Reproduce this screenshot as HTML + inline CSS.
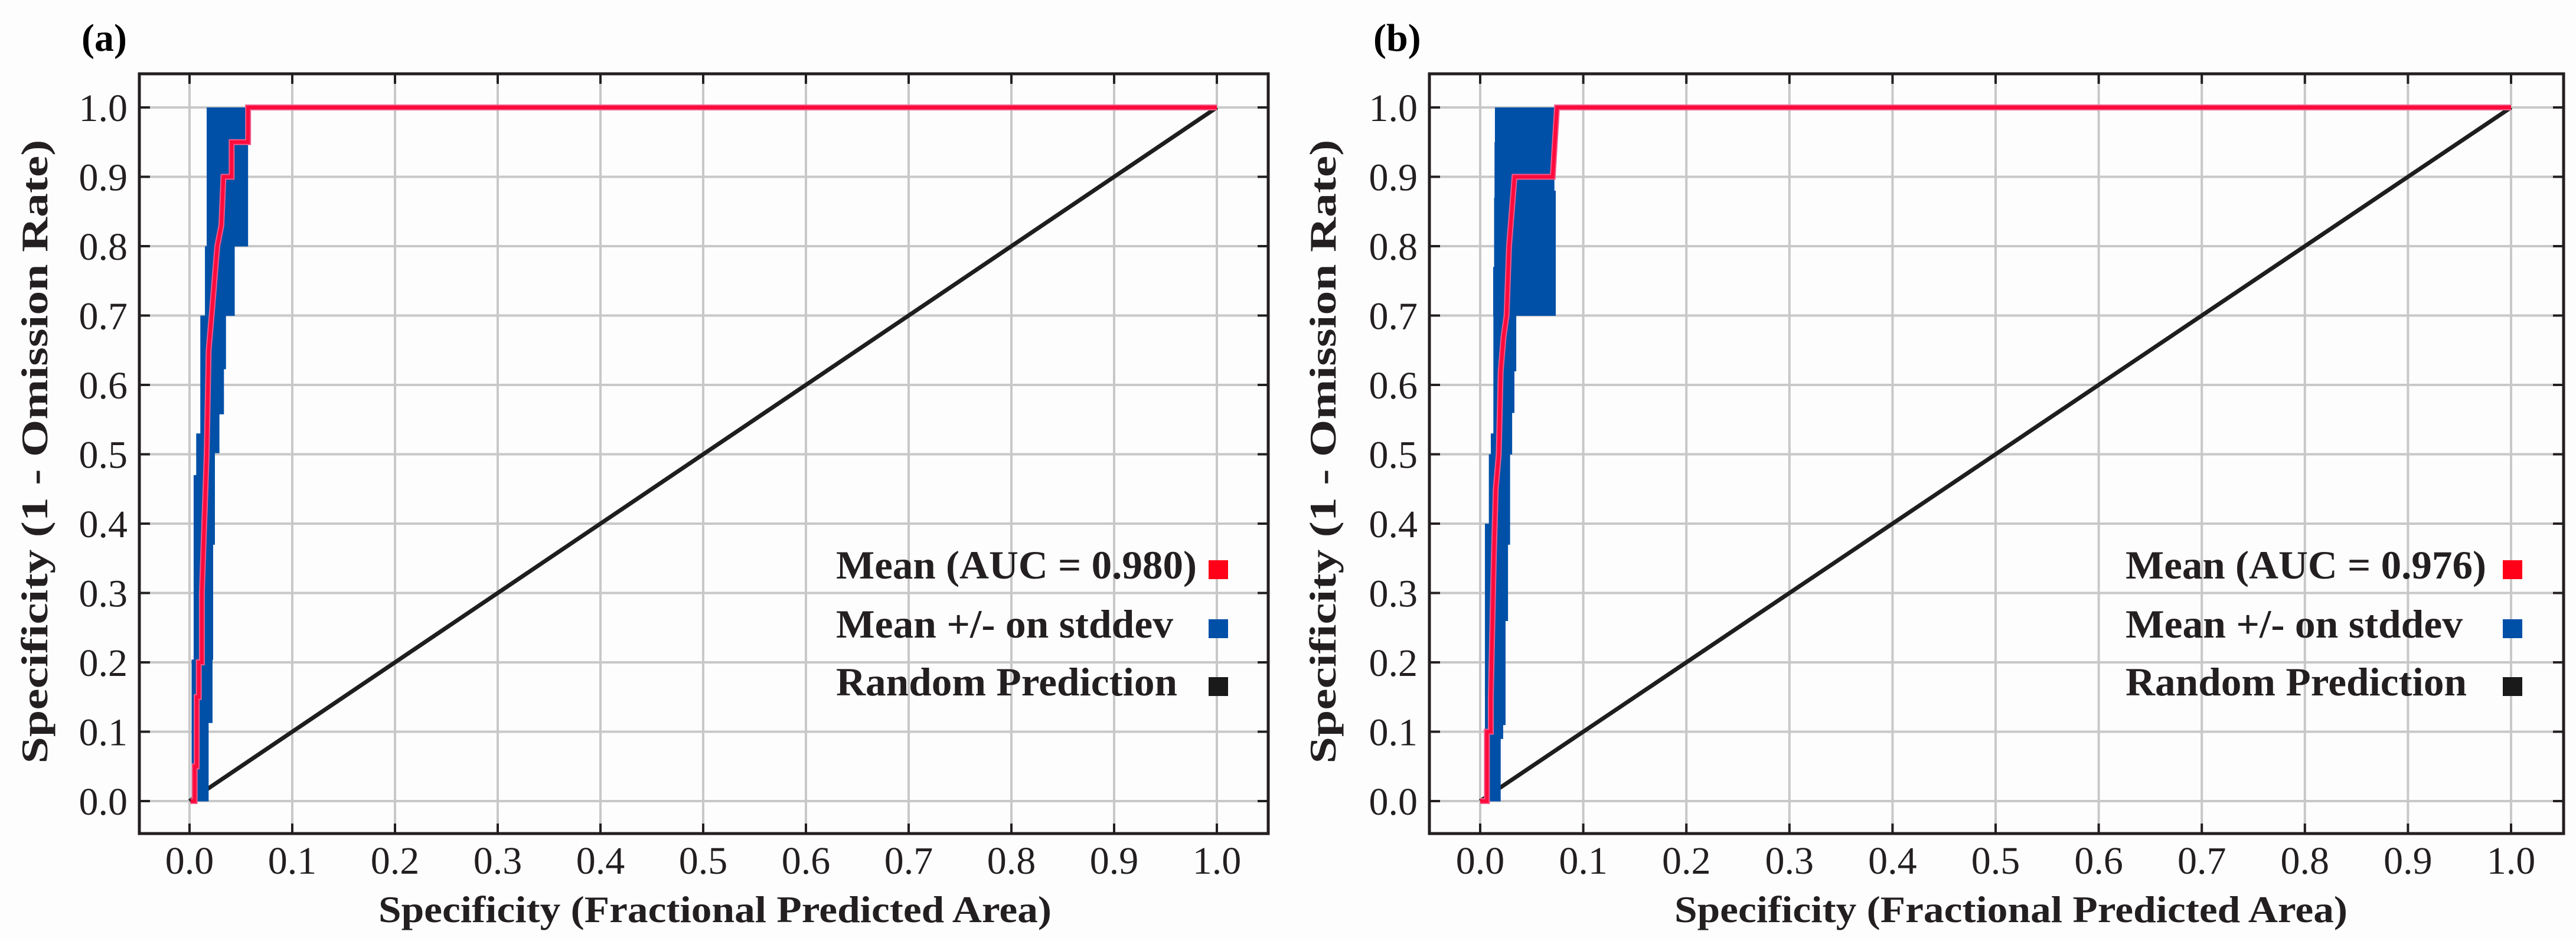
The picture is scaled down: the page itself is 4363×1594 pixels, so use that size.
<!DOCTYPE html>
<html><head><meta charset="utf-8"><style>
html,body{margin:0;padding:0;background:#fdfdfd;}
svg{display:block;font-family:"Liberation Serif","Times New Roman",serif;}
</style></head>
<body>
<svg id="fig" width="4363" height="1594" viewBox="0 0 4363 1594" xmlns="http://www.w3.org/2000/svg">
<rect x="0" y="0" width="4363" height="1594" fill="#fdfdfd"/>
</svg>
<script>
// ---- shared data ----
const xTicks = [0,0.1,0.2,0.3,0.4,0.5,0.6,0.7,0.8,0.9,1.0];
const yTicks = [0,0.1,0.2,0.3,0.4,0.5,0.6,0.7,0.8,0.9,1.0];
const legendLabelsA = ["Mean (AUC = 0.980)","Mean +/- on stddev","Random Prediction"];
const legendLabelsB = ["Mean (AUC = 0.976)","Mean +/- on stddev","Random Prediction"];
// ---- panel a ----
const meanXA = [0.001,0.005,0.005,0.007,0.007,0.009,0.009,0.012,0.012,0.0167,0.0186,0.0215,0.027,0.031,0.033,0.041,0.041,0.054,0.057,0.057,1.0];
const meanYA = [0.0,0.0,0.05,0.05,0.15,0.15,0.2,0.2,0.3,0.5,0.65,0.7,0.8,0.83,0.9,0.9,0.95,0.95,0.95,1.0,1.0];
const bandYLoA = [0.0,0.113,0.204,0.37,0.47,0.502,0.53,0.558,0.623,0.7,0.8];
const bandYHiA = [0.113,0.204,0.37,0.47,0.502,0.53,0.558,0.623,0.7,0.8,1.0];
const bandXLoA = [0.002,0.002,0.004,0.004,0.0065,0.0065,0.0105,0.0105,0.0105,0.015,0.0167];
const bandXHiA = [0.0186,0.0224,0.023,0.0247,0.0247,0.0291,0.0291,0.0335,0.0355,0.044,0.057];
// ---- panel b ----
const meanXB = [0.0,0.0065,0.0065,0.0103,0.0103,0.0132,0.0151,0.018,0.0199,0.0227,0.0256,0.028,0.0333,0.0704,0.0745,1.0];
const meanYB = [0.0,0.0,0.1,0.1,0.15,0.35,0.45,0.5,0.62,0.67,0.7,0.8,0.9,0.9,1.0,1.0];
const bandYLoB = [0.0,0.09,0.11,0.26,0.37,0.40,0.47,0.5,0.53,0.56,0.62,0.7,0.77,0.87,0.88,0.95];
const bandYHiB = [0.09,0.11,0.26,0.37,0.40,0.47,0.5,0.53,0.56,0.62,0.7,0.77,0.87,0.88,0.95,1.0];
const bandXLoB = [0.0046,0.0046,0.0046,0.0046,0.0046,0.0084,0.0084,0.0103,0.0128,0.0128,0.0128,0.0126,0.0135,0.0139,0.0139,0.0143];
const bandXHiB = [0.0199,0.0223,0.0246,0.027,0.029,0.029,0.029,0.031,0.031,0.0332,0.035,0.0733,0.0733,0.0733,0.072,0.072];

const NS="http://www.w3.org/2000/svg";
const svg=document.getElementById('fig');
function mk(tag,attrs,parent){const e=document.createElementNS(NS,tag);for(const k in attrs)e.setAttribute(k,attrs[k]);(parent||svg).appendChild(e);return e;}

function panel(cfg){
  const g=mk('g',{});
  
  
  const sx=v=>cfg.x0+v*(cfg.x1-cfg.x0);
  const sy=v=>cfg.y0-v*(cfg.y0-cfg.y1);
  xTicks.forEach(t=>{const l=mk('line',{x1:sx(t),x2:sx(t),y1:cfg.top,y2:cfg.bottom,stroke:'#c8c8c8','stroke-width':4},g);
    });
  yTicks.forEach(t=>{const l=mk('line',{x1:cfg.left,x2:cfg.right,y1:sy(t),y2:sy(t),stroke:'#c8c8c8','stroke-width':4},g);
    });
  const d=mk('line',{x1:sx(0),y1:sy(0),x2:sx(1),y2:sy(1),stroke:'#1e1e1e','stroke-width':7},g);
  
  for(let i=0;i<cfg.bYLo.length;i++){
    const r=mk('rect',{x:sx(cfg.bXLo[i]),y:sy(cfg.bYHi[i]),width:sx(cfg.bXHi[i])-sx(cfg.bXLo[i]),height:sy(cfg.bYLo[i])-sy(cfg.bYHi[i])+0.5,fill:'#0050a8'},g);
    
  }
  let pts=cfg.mX.map((v,i)=>sx(v)+','+sy(cfg.mY[i])).join(' ');
  const h=mk('polyline',{points:pts,fill:'none',stroke:'#f05a8a','stroke-width':10,'stroke-linejoin':'miter'},g);
  
  const m=mk('polyline',{points:pts,fill:'none',stroke:'#ff0a3c','stroke-width':6,'stroke-linejoin':'miter'},g);
  
  const f=mk('rect',{x:cfg.left,y:cfg.top,width:cfg.right-cfg.left,height:cfg.bottom-cfg.top,fill:'none',stroke:'#231f20','stroke-width':5},g);
  
  xTicks.forEach(t=>{
    const a=mk('line',{x1:sx(t),x2:sx(t),y1:cfg.bottom,y2:cfg.bottom-17,stroke:'#231f20','stroke-width':4},g);
    
    const b=mk('line',{x1:sx(t),x2:sx(t),y1:cfg.top,y2:cfg.top+17,stroke:'#231f20','stroke-width':4},g);
    
    const tx=mk('text',{x:sx(t),y:1480,'font-size':66,'text-anchor':'middle',fill:'#231f20'},g);
    
    tx.textContent=t.toFixed(1);
  });
  yTicks.forEach(t=>{
    const a=mk('line',{x1:cfg.left,x2:cfg.left+18,y1:sy(t),y2:sy(t),stroke:'#231f20','stroke-width':4},g);
    
    const b=mk('line',{x1:cfg.right,x2:cfg.right-18,y1:sy(t),y2:sy(t),stroke:'#231f20','stroke-width':4},g);
    
    const tx=mk('text',{x:cfg.left-20,y:sy(t)+23,'font-size':66,'text-anchor':'end',fill:'#231f20'},g);
    
    tx.textContent=t.toFixed(1);
  });
  const xt=mk('text',{x:cfg.xTitleX,y:1562,'font-size':64,'font-weight':'bold','text-anchor':'middle',fill:'#231f20',textLength:1140,lengthAdjust:'spacingAndGlyphs'},g);
  
  xt.textContent='Specificity (Fractional Predicted Area)';
  const yt=mk('text',{x:0,y:0,'font-size':64,'font-weight':'bold','text-anchor':'middle',fill:'#231f20',textLength:1057,lengthAdjust:'spacingAndGlyphs',transform:`translate(${cfg.yTitleX},765) rotate(-90)`},g);
  
  yt.textContent='Specificity (1 - Omission Rate)';
  const pl=mk('text',{x:cfg.labelX,y:86,'font-size':66,'font-weight':'bold',fill:'#000'},g);
  
  pl.textContent=cfg.label;
  const colors=['#ff0018','#0050a8','#1a1a1a'];
  const base=[980,1080,1178];
  const lens=[611,571,578];
  const lg=mk('g',{},g);
  
  cfg.legend.forEach((s,i)=>{
    const t=mk('text',{x:cfg.legTextX,y:base[i],'font-size':68,'font-weight':'bold',fill:'#231f20',textLength:lens[i],lengthAdjust:'spacingAndGlyphs'},lg);
    
    t.textContent=s;
    const r=mk('rect',{x:cfg.legSqX,y:base[i]-31,width:33,height:32,fill:colors[i]},lg);
    
  });
}

panel({id:'panel-a',label:'(a)',labelX:138,left:236,right:2148,top:125,bottom:1412,x0:321,x1:2061,y0:1357,y1:182,
  mX:meanXA,mY:meanYA,bYLo:bandYLoA,bYHi:bandYHiA,bXLo:bandXLoA,bXHi:bandXHiA,
  xTitleX:1211,yTitleX:80,legTextX:1416,legSqX:2047,legend:legendLabelsA});
panel({id:'panel-b',label:'(b)',labelX:2326,left:2421,right:4342,top:125,bottom:1412,x0:2507,x1:4253,y0:1357,y1:182,
  mX:meanXB,mY:meanYB,bYLo:bandYLoB,bYHi:bandYHiB,bXLo:bandXLoB,bXHi:bandXHiB,
  xTitleX:3406,yTitleX:2262,legTextX:3600,legSqX:4239,legend:legendLabelsB});
</script>
</body></html>
